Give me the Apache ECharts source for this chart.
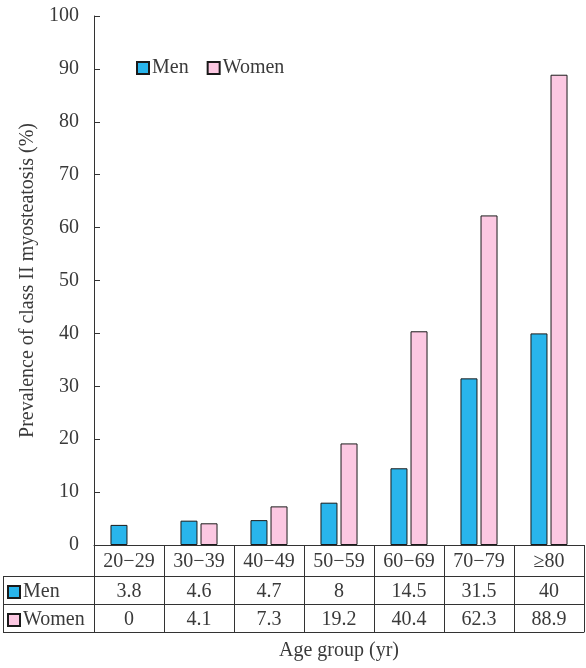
<!DOCTYPE html>
<html>
<head>
<meta charset="utf-8">
<script src="https://cdn.jsdelivr.net/npm/echarts@6/dist/echarts.min.js"></script>
<style>html,body{margin:0;padding:0;background:#fff}#c{width:586px;height:668px}</style>
</head>
<body>
<div id="c"></div>
<script>
var categories = ['20\u221229', '30\u221239', '40\u221249', '50\u221259', '60\u221269', '70\u221279', '\u226580'];
var men = [3.8, 4.6, 4.7, 8, 14.5, 31.5, 40];
var women = [0, 4.1, 7.3, 19.2, 40.4, 62.3, 88.9];
var yTicks = { min: 0, max: 100, interval: 10 };

var FONT = 'Liberation Serif';
var TXT = '#3a3a3a';
var LINE = '#333';
var BLUE = '#29b5ec';
var PINK = '#fcc8e2';
var FS = 20;

function tableAxis(offset, tickLen, labels, margin) {
  return {
    type: 'category', data: categories, position: 'bottom', offset: offset,
    gridIndex: 0,
    axisLine: { show: true, lineStyle: { color: LINE, width: 1 } },
    axisTick: { show: tickLen > 0, length: tickLen, interval: 0, lineStyle: { color: LINE, width: 1 } },
    axisLabel: {
      show: !!labels, interval: 0, margin: margin, verticalAlign: 'middle',
      fontFamily: FONT, fontSize: FS, color: TXT,
      formatter: labels ? function (v, i) { return String(labels[i]); } : undefined
    },
    splitLine: { show: false }
  };
}

function barData(arr) {
  return arr.map(function (v) {
    return v === 0 ? { value: v, itemStyle: { borderWidth: 0 } } : v;
  });
}

var chart = echarts.init(document.getElementById('c'));
var xAxes = [
  tableAxis(0, 31, categories, 17),
  tableAxis(31, 28, men, 16),
  tableAxis(59, 28, women, 16),
  tableAxis(87, 0, null, 0)
];
xAxes[3].name = 'Age group (yr)';
xAxes[3].nameLocation = 'middle';
xAxes[3].nameGap = 9;
xAxes[3].nameTextStyle = { fontFamily: FONT, fontSize: FS, color: TXT };

var legText = { fontFamily: FONT, fontSize: FS, color: TXT, padding: [0, 0, 0, -2] };

chart.setOption({
  animation: false,
  textStyle: { fontFamily: FONT },
  grid: { left: 94, right: 2, top: 16, bottom: 123, containLabel: false, outerBoundsMode: 'none' },
  legend: [
    { data: ['Men', 'Women'], left: 136, top: 58, padding: 0, itemWidth: 12, itemHeight: 12, itemGap: 18, selectedMode: false,
      textStyle: legText, icon: 'rect' },
    { data: ['Men'], left: 7, top: 582, padding: 0, itemWidth: 12, itemHeight: 12, selectedMode: false,
      textStyle: legText, icon: 'rect' },
    { data: ['Women'], left: 7, top: 610, padding: 0, itemWidth: 12, itemHeight: 12, selectedMode: false,
      textStyle: legText, icon: 'rect' }
  ],
  xAxis: xAxes,
  yAxis: {
    type: 'value', min: yTicks.min, max: yTicks.max, interval: yTicks.interval,
    name: 'Prevalence of class II myosteatosis (%)', nameLocation: 'middle', nameGap: 51,
    nameTextStyle: { fontFamily: FONT, fontSize: FS, color: TXT },
    axisLine: { show: true, lineStyle: { color: LINE, width: 1 } },
    axisTick: { show: true, inside: true, length: 6, lineStyle: { color: LINE } },
    axisLabel: { fontFamily: FONT, fontSize: FS, color: TXT, margin: 15 },
    splitLine: { show: false }
  },
  series: [
    { name: 'Men', type: 'bar', data: barData(men), barWidth: 17, barGap: '18%',
      itemStyle: { color: BLUE, borderColor: '#1a1a1a', borderWidth: 1 } },
    { name: 'Women', type: 'bar', data: barData(women), barWidth: 17,
      itemStyle: { color: PINK, borderColor: '#1a1a1a', borderWidth: 1 } }
  ],
  graphic: [
    { type: 'line', shape: { x1: 3.5, y1: 576.5, x2: 3.5, y2: 632.5 }, style: { stroke: LINE, lineWidth: 1 } },
    { type: 'line', shape: { x1: 3, y1: 576.5, x2: 94, y2: 576.5 }, style: { stroke: LINE, lineWidth: 1 } },
    { type: 'line', shape: { x1: 3, y1: 604.5, x2: 94, y2: 604.5 }, style: { stroke: LINE, lineWidth: 1 } },
    { type: 'line', shape: { x1: 3, y1: 632.5, x2: 94, y2: 632.5 }, style: { stroke: LINE, lineWidth: 1 } }
  ]
});
</script>
</body>
</html>
